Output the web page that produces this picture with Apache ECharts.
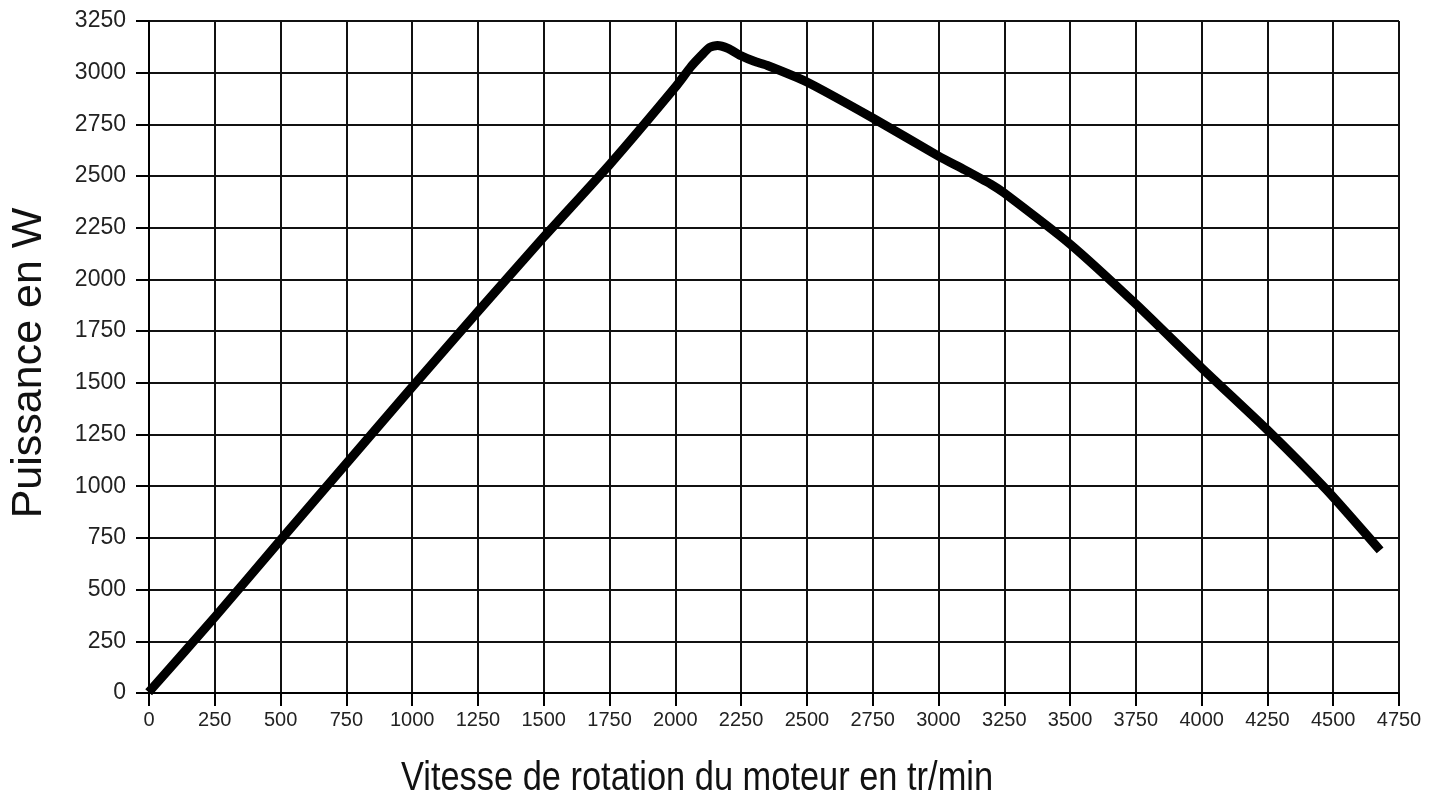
<!DOCTYPE html>
<html><head><meta charset="utf-8">
<script src="https://cdn.jsdelivr.net/npm/echarts@6/dist/echarts.min.js"></script>
<style>html,body{margin:0;padding:0;background:#fff}#c{width:1442px;height:801px}</style>
</head><body><div id="c"></div>
<script>
const speed = [10, 250, 500, 750, 1000, 1250, 1500, 1750, 2000, 2060, 2100, 2130, 2160, 2200, 2250, 2300, 2350, 2500, 2750, 3000, 3100, 3200, 3250, 3500, 3750, 4000, 4250, 4475, 4667];
const power = [20, 367, 740, 1110, 1480, 1845, 2205, 2555, 2930, 3030, 3085, 3122, 3132, 3118, 3082, 3055, 3035, 2955, 2781, 2597, 2530, 2460, 2418, 2171, 1881, 1572, 1272, 982, 706];
const xTicks = {min: 0, max: 4750, interval: 250};
const yTicks = {min: 0, max: 3250, interval: 250};
const xTitle = 'Vitesse de rotation du moteur en tr/min';
const yTitle = 'Puissance en W';

const chart = echarts.init(document.getElementById('c'));
const font = 'Liberation Sans, Arial, sans-serif';
chart.setOption({
  animation: false,
  backgroundColor: '#fff',
  grid: {left: 149, right: 43, top: 21, bottom: 108},
  graphic: [
    {type: 'text', x: 697, y: 779, scaleX: 0.86,
     style: {text: xTitle, fontFamily: font, fontSize: 40, fill: '#111', textAlign: 'center', textVerticalAlign: 'middle'}},
    {type: 'text', x: 29, y: 363, rotation: Math.PI / 2,
     style: {text: yTitle, fontFamily: font, fontSize: 43, fill: '#111', textAlign: 'center', textVerticalAlign: 'middle'}}
  ],
  xAxis: {
    type: 'value', min: xTicks.min, max: xTicks.max, interval: xTicks.interval,
    axisLine: {show: true, lineStyle: {color: '#000', width: 2}},
    axisTick: {show: true, length: 13, lineStyle: {color: '#000', width: 2}},
    axisLabel: {fontFamily: font, fontSize: 20, color: '#222', margin: 17, formatter: v => String(v)},
    splitLine: {show: true, lineStyle: {color: '#111', width: 2}}
  },
  yAxis: {
    type: 'value', min: yTicks.min, max: yTicks.max, interval: yTicks.interval,
    axisLine: {show: true, lineStyle: {color: '#000', width: 2}},
    axisTick: {show: true, length: 13, lineStyle: {color: '#000', width: 2}},
    axisLabel: {fontFamily: font, fontSize: 23, color: '#222', margin: 23, formatter: v => String(v)},
    splitLine: {show: true, lineStyle: {color: '#111', width: 2}}
  },
  series: [{
    type: 'line',
    data: speed.map((s, i) => [s, power[i]]),
    showSymbol: false,
    smooth: 0.2,
    lineStyle: {color: '#000', width: 9, cap: 'square', join: 'round'}
  }]
});
</script></body></html>
